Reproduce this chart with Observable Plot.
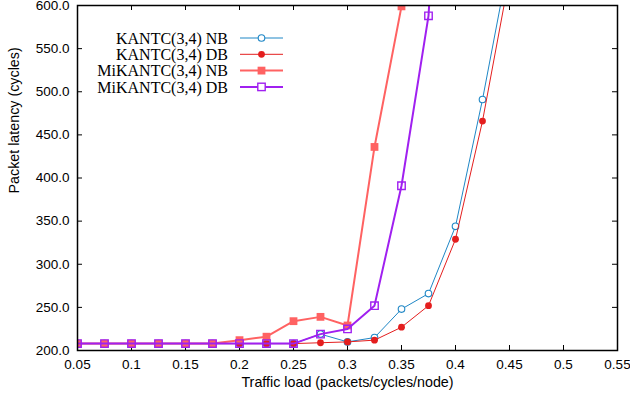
<!DOCTYPE html>
<html>
<head>
<meta charset="utf-8">
<script src="https://cdn.jsdelivr.net/npm/d3@7"></script>
<script src="https://cdn.jsdelivr.net/npm/@observablehq/plot@0.6"></script>
<style>
  html, body { margin: 0; padding: 0; background: #fff; }
</style>
</head>
<body>
<div id="chart"></div>
<script>
// ---- data ----
const loads = [0.05, 0.075, 0.1, 0.125, 0.15, 0.175, 0.2, 0.225, 0.25, 0.275, 0.3, 0.325, 0.35, 0.375, 0.4, 0.425, 0.45];
const kantcNB   = [208, 208, 208, 208, 208, 208, 208, 208, 208, 219, 210, 215, 248, 266, 344, 491, 655];
const kantcDB   = [208, 208, 208, 208, 208, 208, 208, 208, 208, 209, 210, 212, 227, 252, 329, 466, 634];
const mikantcNB = [208, 208, 208, 208, 208, 208, 212, 216, 234, 239, 229, 436, 599];
const mikantcDB = [208, 208, 208, 208, 208, 208, 208, 208, 208, 219, 225, 252, 391, 588, 1100];

const seriesNames = ["KANTC(3,4) NB", "KANTC(3,4) DB", "MiKANTC(3,4) NB", "MiKANTC(3,4) DB"];
const seriesValues = [kantcNB, kantcDB, mikantcNB, mikantcDB];
const seriesColors = ["#1f87c6", "#e41e1e", "#ff6262", "#a020f0"];
const seriesWidths = [1, 1, 2, 2];

const xTicks = [0.05, 0.1, 0.15, 0.2, 0.25, 0.3, 0.35, 0.4, 0.45, 0.5, 0.55];
const yTicks = [200, 250, 300, 350, 400, 450, 500, 550, 600];
const xTitle = "Traffic load (packets/cycles/node)";
const yTitle = "Packet latency (cycles)";

const tables = seriesValues.map((vals, s) =>
  vals.map((v, i) => ({x: loads[i], y: v, s: seriesNames[s]}))
);

// marker styles per series
function markerMarks(data, s) {
  const c = seriesColors[s];
  if (s === 0) return Plot.dot(data, {x: "x", y: "y", r: 3.3, stroke: c, strokeWidth: 1.1, fill: "white", clip: true});
  if (s === 1) return Plot.dot(data, {x: "x", y: "y", r: 3.4, fill: c, stroke: "none", clip: true});
  if (s === 2) return Plot.dot(data, {x: "x", y: "y", symbol: "square", r: 4.4, fill: c, stroke: "none", clip: true});
  return Plot.dot(data, {x: "x", y: "y", symbol: "square", r: 4.2, fill: "none", stroke: c, strokeWidth: 1.4, clip: true});
}

const marks = [
  Plot.axisX(xTicks, {tickSize: 0, tickPadding: 9, tickFormat: d => String(+d.toFixed(2)), label: null}),
  Plot.axisY(yTicks, {tickSize: 0, tickPadding: 8, tickFormat: d => d.toFixed(1), label: null}),
  Plot.tickX(xTicks, {x: d => d, insetTop: 340, stroke: "#000", strokeWidth: 1}),
  Plot.tickX(xTicks, {x: d => d, insetBottom: 340, stroke: "#000", strokeWidth: 1}),
  Plot.tickY(yTicks, {y: d => d, insetRight: 535, stroke: "#000", strokeWidth: 1}),
  Plot.tickY(yTicks, {y: d => d, insetLeft: 535, stroke: "#000", strokeWidth: 1}),
  Plot.text([xTitle], {frameAnchor: "bottom", dy: 36.5, fontSize: 14.3}),
  Plot.text([yTitle], {frameAnchor: "left", dx: -63.5, dy: 15.5, rotate: -90, fontSize: 14.3})
];
tables.forEach((data, s) => {
  marks.push(Plot.line(data, {x: "x", y: "y", stroke: seriesColors[s], strokeWidth: seriesWidths[s], clip: true}));
  marks.push(markerMarks(data, s));
});
marks.push(Plot.frame({stroke: "#000", strokeWidth: 1.5}));

const chart = Plot.plot({
  width: 630,
  height: 403,
  marginLeft: 77,
  marginRight: 13,
  marginTop: 5,
  marginBottom: 53,
  x: {domain: [0.05, 0.55]},
  y: {domain: [200, 600]},
  style: {fontFamily: "'Liberation Sans', Arial, sans-serif", fontSize: "13.5px", color: "#000", background: "#fff"},
  marks
});

// legend (inside the plot, top-left)
const svg = d3.select(chart);
const lg = svg.append("g").attr("class", "legend");
seriesNames.forEach((name, s) => {
  const yy = 38 + s * 16.3;
  const c = seriesColors[s];
  lg.append("text").attr("x", 228).attr("y", yy).attr("dy", "0.35em")
    .attr("text-anchor", "end").attr("font-family", "'Liberation Serif', 'Times New Roman', serif")
    .attr("font-size", 16).attr("fill", "#000").text(name);
  lg.append("line").attr("x1", 240).attr("x2", 283).attr("y1", yy).attr("y2", yy)
    .attr("stroke", c).attr("stroke-width", seriesWidths[s]);
  const mx = 261.5;
  if (s === 0) lg.append("circle").attr("cx", mx).attr("cy", yy).attr("r", 3.3).attr("fill", "white").attr("stroke", c).attr("stroke-width", 1.1);
  else if (s === 1) lg.append("circle").attr("cx", mx).attr("cy", yy).attr("r", 3.4).attr("fill", c);
  else if (s === 2) lg.append("rect").attr("x", mx - 3.9).attr("y", yy - 3.9).attr("width", 7.8).attr("height", 7.8).attr("fill", c);
  else lg.append("rect").attr("x", mx - 3.7).attr("y", yy - 3.7).attr("width", 7.4).attr("height", 7.4).attr("fill", "white").attr("stroke", c).attr("stroke-width", 1.4);
});

document.getElementById("chart").appendChild(chart);
</script>
</body>
</html>
